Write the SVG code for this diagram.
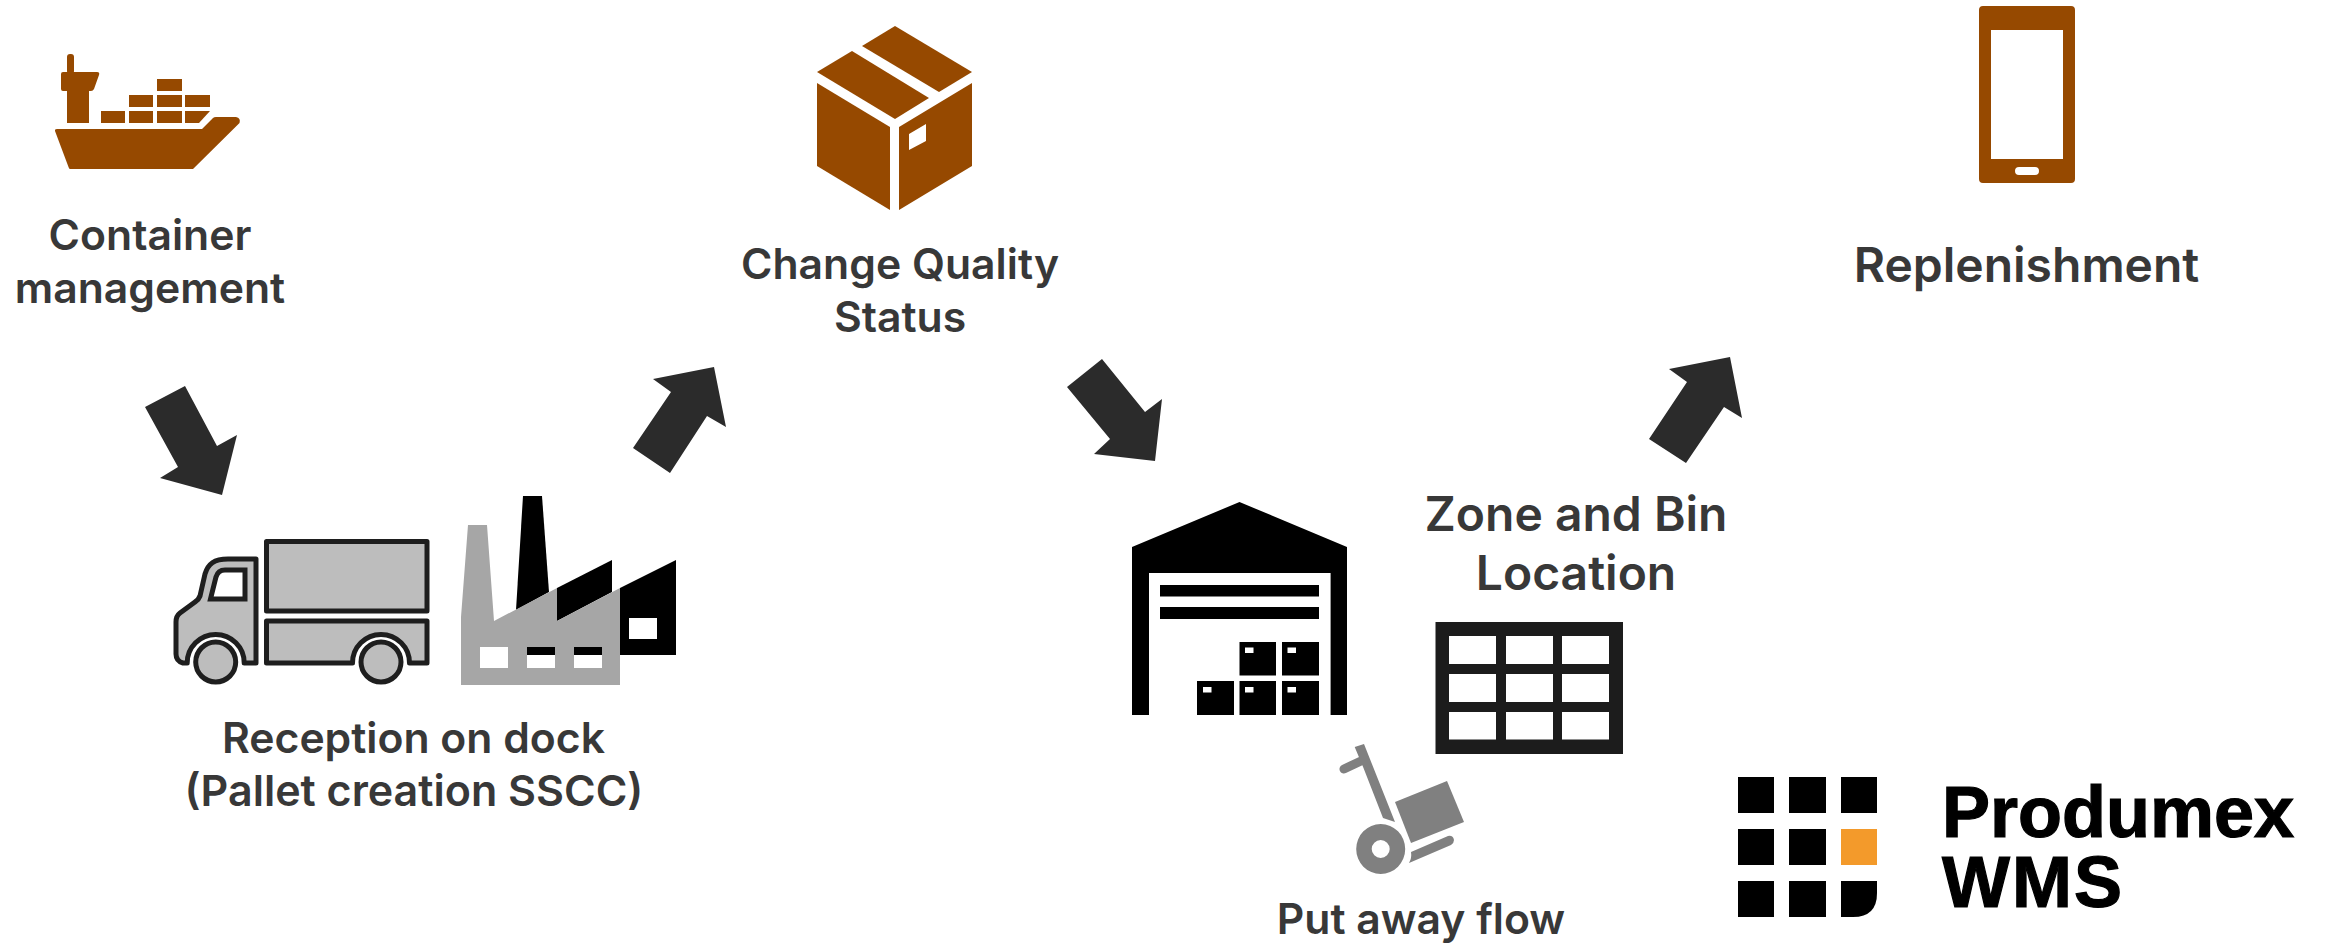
<svg xmlns="http://www.w3.org/2000/svg" width="2328" height="943" viewBox="0 0 2328 943">
<style>
text{font-family:"Inter","Liberation Sans",sans-serif;font-weight:600;fill:#383838;text-anchor:middle}
.t{font-size:42.700px}
.z{font-size:48px}
.logo{font-family:"Liberation Sans",Arial,sans-serif;font-weight:700;fill:#000;stroke:#000;stroke-width:1.200px;font-size:72px;text-anchor:start}
.br{fill:#964900}
.arrow{fill:#2b2b2b}
.k{fill:#000}
.w{fill:#fff}
.tr{fill:#bdbdbd;stroke:#1e1e1e;stroke-width:5;stroke-linejoin:round}
</style>
<rect width="2328" height="943" fill="#fff"/>
<g id="connectors">
<polygon class="arrow" points="185,386 217,446 237,435 222,495 160,478 178,467 145,407"/>
<polygon class="arrow" points="714,367 653,379 671,392 633,448 670,473 707,416 726,427"/>
<polygon class="arrow" points="1102,359 1067,387 1110,439 1094,454 1155,461 1162,399 1145,412"/>
<polygon class="arrow" points="1730,357 1669,369 1687,382 1649,439 1686,463 1724,407 1742,418"/>
</g>
<g id="container-management">
<g class="br">
<path d="M55,131 Q54.500,129 57,129 H202 L213,118 Q214,117 216,117 H236 Q241,118 239.500,123 L193,169 H70 Q69,169 68.500,167 Z"/>
<rect x="67" y="54" width="7" height="20" rx="3"/>
<path d="M63,72 H97 Q100,72 99,75 L94,89 Q93,91 91,91 H89 V123 H67 V91 H63 Q61,91 61,89 V74 Q61,72 63,72 Z"/>
<rect x="101" y="111" width="24" height="12"/>
<rect x="129" y="111" width="24" height="12"/>
<rect x="157" y="111" width="25" height="12"/>
<polygon points="185,111 210,111 199,123 185,123"/>
<rect x="129" y="95" width="24" height="12"/>
<rect x="157" y="95" width="25" height="12"/>
<rect x="185" y="95" width="25" height="12"/>
<rect x="157" y="79" width="25" height="12"/>
</g>
<text class="t" x="150" y="250">Container</text>
<text class="t" x="150" y="303">management</text>
</g>
<g id="reception-on-dock">
<rect class="tr" x="266.500" y="541.500" width="160.500" height="69.500"/>
<path class="tr" d="M266.500,621 H427 V663 H409.500 A28.500,28.500 0 0 0 352.500,663 H266.500 Z"/>
<path class="tr" d="M256,663 V559 H228 C214,559 208,564 205,574 L200,596 Q198.500,600 195,602 L180,613 Q176,616 176,622 V654 Q176,661 183,663 H187.200 A28.500,28.500 0 0 1 244.200,663 Z"/>
<path d="M245,570 H225 Q218,570 216,577 L210.500,599 H245 Z" fill="#fff" stroke="#1e1e1e" stroke-width="5"/>
<circle class="tr" cx="215.700" cy="662" r="20"/>
<circle class="tr" cx="381" cy="662" r="20"/>
<g class="k">
<polygon points="523,496 542,496 549,592 516,610"/>
<polygon points="557,588 612,560 612,592 557,621"/>
<polygon points="620,588 676,560 676,655 620,655"/>
</g>
<rect class="w" x="629" y="618" width="28" height="21"/>
<path fill="#a6a6a6" fill-rule="evenodd" d="M468,525 H487 L494,621 557,588 V621 L620,588 V685 H461 V617 Z M480,647 V668 H508 V647 Z M527,647 V668 H555 V647 Z M574,647 V668 H602 V647 Z"/>
<rect class="k" x="527" y="647" width="28" height="8"/>
<rect class="k" x="574" y="647" width="28" height="8"/>
<text class="t" x="413.500" y="753">Reception on dock</text>
<text class="t" style="font-size:43px" x="414" y="805.500">(Pallet creation SSCC)</text>
</g>
<g id="change-quality-status">
<g class="br">
<polygon points="895,26 972,72 939,92 862,46"/>
<polygon points="852,51 929,98 895,119 817,72"/>
<polygon points="817,83 890,127 890,210 817,166"/>
<path fill-rule="evenodd" d="M972,83 L899,127 V210 L972,166 Z M909,134 V150 L926,141 V124 Z"/>
</g>
<text class="t" x="900" y="279">Change Quality</text>
<text class="t" x="900" y="332">Status</text>
</g>
<g id="put-away-warehouse">
<polygon class="k" points="1239.500,502 1347,547 1347,715 1330.600,715 1330.600,573 1149,573 1149,715 1132,715 1132,547"/>
<rect class="k" x="1160" y="585" width="159" height="11.500"/>
<rect class="k" x="1160" y="607" width="159" height="12"/>
<g class="k">
<rect x="1239.500" y="642" width="36.500" height="33.500"/>
<rect x="1282" y="642" width="37" height="33.500"/>
<rect x="1197" y="681" width="37" height="34"/>
<rect x="1239.500" y="681" width="36.500" height="34"/>
<rect x="1282" y="681" width="37" height="34"/>
</g>
<g class="w">
<rect x="1245" y="647.500" width="8.500" height="5.500"/>
<rect x="1287.500" y="647.500" width="8.500" height="5.500"/>
<rect x="1203" y="687" width="8.500" height="5.500"/>
<rect x="1245" y="687" width="8.500" height="5.500"/>
<rect x="1287.500" y="687" width="8.500" height="5.500"/>
</g>
</g>
<g id="zone-and-bin-location">
<rect x="1435.500" y="622" width="187.500" height="132" fill="#1c1c1c"/>
<g class="w">
<rect x="1449" y="636" width="47" height="28"/>
<rect x="1506" y="636" width="47" height="28"/>
<rect x="1562" y="636" width="47" height="28"/>
<rect x="1449" y="674" width="47" height="28"/>
<rect x="1506" y="674" width="47" height="28"/>
<rect x="1562" y="674" width="47" height="28"/>
<rect x="1449" y="712" width="47" height="27.500"/>
<rect x="1506" y="712" width="47" height="27.500"/>
<rect x="1562" y="712" width="47" height="27.500"/>
</g>
<text class="z" x="1576" y="530.500">Zone and Bin</text>
<text class="z" x="1576" y="589.500">Location</text>
</g>
<g id="put-away-flow">
<g fill="#808080">
<polygon points="1354.700,747 1364,744 1395,822 1383,818 1363.500,768"/>
<line x1="1344" y1="769" x2="1361" y2="761" stroke="#808080" stroke-width="9" stroke-linecap="round"/>
<polygon points="1395,802 1447,781 1464,822 1411,843"/>
<path fill-rule="evenodd" d="M1356.200,849 A24.500,25 0 1 1 1405.200,849 A24.500,25 0 1 1 1356.200,849 Z M1371.700,849 A9,9 0 1 0 1389.700,849 A9,9 0 1 0 1371.700,849 Z"/>
<path d="M1411,852 L1448,836 Q1453,835 1454,840 Q1454,843 1451,845 L1409,863 Q1412,858 1411,852 Z"/>
</g>
<text class="t" x="1421" y="934">Put away flow</text>
</g>
<g id="replenishment">
<path class="br" fill-rule="evenodd" d="M1983,6 H2071 Q2075,6 2075,10 V179 Q2075,183 2071,183 H1983 Q1979,183 1979,179 V10 Q1979,6 1983,6 Z M1991,30 V159 H2063 V30 Z M2019,167 Q2015,167 2015,171 Q2015,175 2019,175 H2035 Q2039,175 2039,171 Q2039,167 2035,167 Z"/>
<text class="z" x="2026.500" y="282">Replenishment</text>
</g>
<g id="produmex-wms-logo">
<g class="k">
<rect x="1738" y="777" width="36" height="36"/>
<rect x="1789" y="777" width="37" height="36"/>
<rect x="1841" y="777" width="36" height="36"/>
<rect x="1738" y="829" width="36" height="36"/>
<rect x="1789" y="829" width="37" height="36"/>
<rect x="1738" y="881" width="36" height="36"/>
<rect x="1789" y="881" width="37" height="36"/>
<path d="M1841,881 H1877 V893 Q1877,917 1853,917 H1841 Z"/>
</g>
<rect x="1841" y="829" width="36" height="36" fill="#f39a2b"/>
<text class="logo" x="1942" y="837">Produmex</text>
<text class="logo" x="1942" y="907" textLength="180" lengthAdjust="spacing">WMS</text>
</g>
</svg>
